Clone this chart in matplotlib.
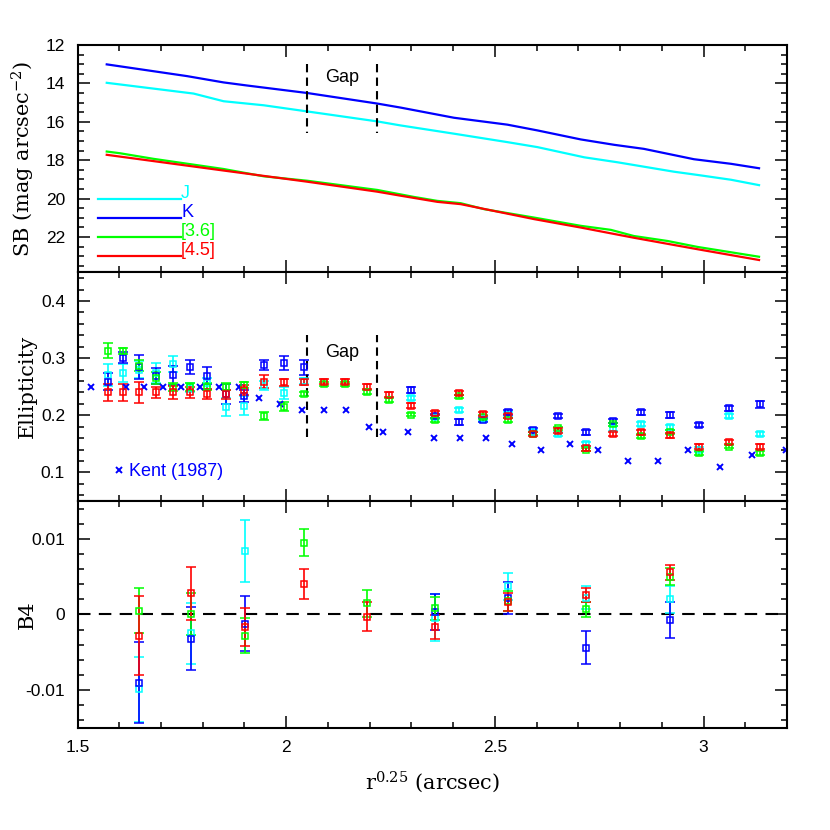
import numpy as np
import matplotlib
matplotlib.use("Agg")
import matplotlib.pyplot as plt
from matplotlib.ticker import MultipleLocator, FuncFormatter
from matplotlib.legend_handler import HandlerLine2D

plt.rcParams['font.family'] = ['Liberation Sans', 'DejaVu Sans']
plt.rcParams['mathtext.fontset'] = 'dejavuserif'
plt.rcParams['axes.unicode_minus'] = False

nan = np.nan

# colours of the four bands
c_J = '#00ffff'
c_K = '#0000ff'
c_36 = '#00ff00'
c_45 = '#ff0000'

# ---- surface brightness profiles (top panel)
sb_r_K = [1.570, 1.762, 1.850, 1.906, 2.050, 2.218, 2.274, 2.402, 2.530, 2.602, 2.706, 2.786, 2.857, 2.977, 3.066, 3.133]
sb_K = [13.01, 13.62, 13.95, 14.11, 14.50, 15.05, 15.26, 15.79, 16.15, 16.45, 16.92, 17.20, 17.41, 17.95, 18.19, 18.42]
sb_r_J = [1.570, 1.778, 1.850, 1.946, 2.050, 2.218, 2.274, 2.402, 2.530, 2.602, 2.714, 2.794, 2.929, 2.986, 3.066, 3.133]
sb_J = [13.97, 14.53, 14.93, 15.14, 15.46, 15.98, 16.19, 16.62, 17.06, 17.32, 17.85, 18.11, 18.60, 18.77, 19.02, 19.30]
sb_r_36 = [1.570, 1.602, 1.682, 1.850, 1.946, 2.050, 2.218, 2.305, 2.362, 2.418, 2.474, 2.594, 2.706, 2.778, 2.833, 2.914, 2.986, 3.133]
sb_36 = [17.55, 17.64, 17.93, 18.46, 18.84, 19.07, 19.55, 19.91, 20.12, 20.24, 20.55, 20.99, 21.42, 21.63, 21.95, 22.21, 22.52, 23.03]
sb_r_45 = [1.570, 1.850, 2.050, 2.218, 2.274, 2.362, 2.418, 2.594, 2.706, 2.833, 2.986, 3.133]
sb_45 = [17.72, 18.54, 19.12, 19.64, 19.85, 20.17, 20.29, 21.07, 21.51, 22.04, 22.64, 23.20]

# ---- ellipticity (middle panel)
ell_r = [1.572, 1.608, 1.648, 1.688, 1.728, 1.770, 1.811, 1.856, 1.900, 1.948, 1.994, 2.042, 2.090, 2.142, 2.194,
         2.246, 2.300, 2.356, 2.414, 2.471, 2.531, 2.591, 2.651, 2.718, 2.784, 2.851, 2.920, 2.989, 3.061, 3.136]
ell_J = [0.271, 0.274, 0.280, 0.274, 0.290, 0.248, 0.256, 0.215, 0.217, 0.252, 0.239, 0.260, nan, nan, nan,
         nan, 0.230, 0.197, 0.209, 0.194, 0.201, 0.170, 0.167, 0.150, 0.177, 0.185, 0.179, 0.140, 0.199, 0.167]
ell_J_err = [0.019, 0.015, 0.015, 0.017, 0.014, 0.008, 0.010, 0.016, 0.017, 0.008, 0.010, 0.006, nan, nan, nan,
             nan, 0.004, 0.004, 0.004, 0.004, 0.004, 0.004, 0.004, 0.004, 0.004, 0.004, 0.004, 0.004, 0.004, 0.004]
ell_K = [0.259, 0.301, 0.284, 0.269, 0.270, 0.285, 0.269, 0.237, 0.234, 0.288, 0.292, 0.284, nan, nan, nan,
         nan, 0.244, 0.199, 0.188, 0.192, 0.205, 0.174, 0.199, 0.170, 0.190, 0.205, 0.201, 0.183, 0.212, 0.219]
ell_K_err = [0.015, 0.010, 0.021, 0.014, 0.017, 0.012, 0.015, 0.017, 0.010, 0.009, 0.012, 0.013, nan, nan, nan,
             nan, 0.005, 0.004, 0.005, 0.004, 0.004, 0.004, 0.004, 0.004, 0.004, 0.005, 0.005, 0.004, 0.005, 0.006]
ell_36 = [0.313, 0.312, 0.287, 0.265, 0.250, 0.250, 0.250, 0.250, 0.253, 0.198, 0.215, 0.237, 0.255, 0.255, 0.241,
          0.227, 0.201, 0.192, 0.233, 0.197, 0.192, 0.168, 0.177, 0.140, 0.184, 0.164, 0.171, 0.134, 0.145, 0.134]
ell_36_err = [0.013, 0.005, 0.009, 0.010, 0.007, 0.007, 0.006, 0.006, 0.006, 0.007, 0.008, 0.004, 0.004, 0.004, 0.004,
              0.004, 0.003, 0.003, 0.003, 0.003, 0.003, 0.003, 0.003, 0.003, 0.003, 0.003, 0.003, 0.003, 0.003, 0.003]
ell_45 = [0.240, 0.240, 0.240, 0.240, 0.240, 0.240, 0.237, 0.237, 0.244, 0.259, 0.258, 0.258, 0.259, 0.259, 0.250,
          0.236, 0.217, 0.204, 0.239, 0.202, 0.199, 0.167, 0.173, 0.142, 0.167, 0.170, 0.165, 0.145, 0.153, 0.145]
ell_45_err = [0.015, 0.015, 0.019, 0.010, 0.012, 0.009, 0.009, 0.008, 0.009, 0.011, 0.006, 0.005, 0.004, 0.004, 0.004,
              0.004, 0.004, 0.004, 0.004, 0.004, 0.004, 0.004, 0.004, 0.004, 0.004, 0.004, 0.004, 0.004, 0.004, 0.004]

# Kent (1987) ellipticities
kent_r = [1.532, 1.616, 1.660, 1.704, 1.748, 1.794, 1.840, 1.888, 1.936, 1.986, 2.038, 2.090, 2.144, 2.198, 2.231,
          2.292, 2.354, 2.416, 2.479, 2.542, 2.610, 2.679, 2.747, 2.818, 2.891, 2.963, 3.039, 3.117, 3.198]
kent_e = [0.25, 0.25, 0.25, 0.25, 0.25, 0.25, 0.25, 0.25, 0.23, 0.22, 0.21, 0.21, 0.21, 0.18, 0.17,
          0.17, 0.16, 0.16, 0.16, 0.15, 0.14, 0.15, 0.14, 0.12, 0.12, 0.14, 0.11, 0.13, 0.14]

# ---- B4 (bottom panel)
b4_r = [1.648, 1.772, 1.902, 2.043, 2.194, 2.356, 2.531, 2.718, 2.920]
b4_J = [-0.0099, -0.0025, 0.0084, nan, nan, -0.0004, 0.0037, 0.0022, 0.0020]
b4_J_err = [0.0043, 0.0040, 0.0041, nan, nan, 0.0031, 0.0018, 0.0015, 0.0018]
b4_K = [-0.0090, -0.0032, -0.0012, nan, nan, 0.0003, 0.0022, -0.0044, -0.0007]
b4_K_err = [0.0054, 0.0042, 0.0036, nan, nan, 0.0024, 0.0021, 0.0022, 0.0024]
b4_36 = [0.0005, 0.0001, -0.0028, 0.0095, 0.0015, 0.0008, 0.0018, 0.0007, 0.0050]
b4_36_err = [0.0030, 0.0028, 0.0023, 0.0018, 0.0018, 0.0015, 0.0013, 0.0010, 0.0011]
b4_45 = [-0.0028, 0.0028, -0.0017, 0.0040, -0.0003, -0.0017, 0.0016, 0.0026, 0.0056]
b4_45_err = [0.0052, 0.0035, 0.0025, 0.0020, 0.0019, 0.0016, 0.0012, 0.0009, 0.0010]

gap_edges = [2.05, 2.218]

fig = plt.figure(figsize=(8.3, 8.3), dpi=100)
ax_sb = fig.add_axes([0.0934, 0.6717, 0.8548, 0.2741])
ax_el = fig.add_axes([0.0934, 0.3964, 0.8548, 0.2753])
ax_b4 = fig.add_axes([0.0934, 0.1229, 0.8548, 0.2735])

fmt = FuncFormatter(lambda v, p: '%g' % round(v, 6))
label_font = dict(family='DejaVu Serif', fontsize=15)

for ax in (ax_sb, ax_el, ax_b4):
    ax.set_xlim(1.5, 3.2)
    ax.xaxis.set_major_locator(MultipleLocator(0.5))
    ax.xaxis.set_minor_locator(MultipleLocator(0.1))
    ax.tick_params(which='both', direction='in', top=True, right=True, width=1.1, pad=9, labelsize=12.5)
    ax.tick_params(which='major', length=8.5)
    ax.tick_params(which='minor', length=4.5)
    ax.yaxis.set_major_formatter(fmt)
    ax.xaxis.set_major_formatter(fmt)
    for s in ax.spines.values():
        s.set_linewidth(1.5)
    ax.yaxis.set_label_coords(-0.057, 0.5)

# top: SB profiles
lJ, = ax_sb.plot(sb_r_J, sb_J, color=c_J, lw=1.6, label='J')
lK, = ax_sb.plot(sb_r_K, sb_K, color=c_K, lw=1.6, label='K')
l36, = ax_sb.plot(sb_r_36, sb_36, color=c_36, lw=1.6, label='[3.6]')
l45, = ax_sb.plot(sb_r_45, sb_45, color=c_45, lw=1.6, label='[4.5]')
ax_sb.set_ylim(23.85, 12)
ax_sb.yaxis.set_major_locator(MultipleLocator(2))
ax_sb.yaxis.set_minor_locator(MultipleLocator(0.5))
ax_sb.set_ylabel('SB (mag arcsec$^{-2}$)', **label_font)
ax_sb.tick_params(labelbottom=False)
ax_sb.vlines(gap_edges, 12.99, 16.6, colors='black', linestyles=(0, (4, 2.5)), lw=1.5)
ax_sb.text(np.mean(gap_edges), 13.7, 'Gap', ha='center', va='center', fontsize=13)


def drop_line(legline, orig):
    # keep the colour, and put the line at the text baseline like the hand drawn key
    legline.update_from(orig)
    legline.set_ydata(np.asarray(legline.get_ydata()) - 5.2)


leg = ax_sb.legend(handles=[lJ, lK, l36, l45], loc='upper left', bbox_to_anchor=(0.029, 0.385),
                   frameon=False, borderpad=0, borderaxespad=0, handlelength=4.6, handletextpad=0,
                   labelspacing=0.12, fontsize=13, labelcolor=[c_J, c_K, c_36, c_45],
                   handler_map={plt.Line2D: HandlerLine2D(update_func=drop_line)})

# middle: ellipticity
ek = dict(fmt='s', mfc='none', ms=5, mew=1.1, elinewidth=1.2, capsize=3.5, capthick=1.2)
ax_el.errorbar(ell_r, ell_J, yerr=ell_J_err, color=c_J, **ek)
ax_el.errorbar(ell_r, ell_K, yerr=ell_K_err, color=c_K, **ek)
ax_el.errorbar(ell_r, ell_36, yerr=ell_36_err, color=c_36, **ek)
ax_el.errorbar(ell_r, ell_45, yerr=ell_45_err, color=c_45, **ek)
kent, = ax_el.plot(kent_r, kent_e, 'x', color=c_K, ms=4.5, mew=1.4, ls='none', label='Kent (1987)')
ax_el.set_ylim(0.05, 0.45)
ax_el.yaxis.set_major_locator(MultipleLocator(0.1))
ax_el.yaxis.set_minor_locator(MultipleLocator(0.02))
ax_el.set_ylabel('Ellipticity', **label_font)
ax_el.tick_params(labelbottom=False)
ax_el.vlines(gap_edges, 0.162, 0.34, colors='black', linestyles=(0, (4, 2.5)), lw=1.5)
ax_el.text(np.mean(gap_edges), 0.31, 'Gap', ha='center', va='center', fontsize=13)
ax_el.legend(handles=[kent], loc='center left', bbox_to_anchor=(0.0486, 0.128), frameon=False,
             borderpad=0, borderaxespad=0, handlelength=0.8, handletextpad=0.15, numpoints=1,
             fontsize=13, labelcolor=c_K)

# bottom: B4
ax_b4.axhline(0, color='black', lw=1.5, ls=(0, (6, 4)))
ax_b4.errorbar(b4_r, b4_J, yerr=b4_J_err, color=c_J, **ek)
ax_b4.errorbar(b4_r, b4_K, yerr=b4_K_err, color=c_K, **ek)
ax_b4.errorbar(b4_r, b4_36, yerr=b4_36_err, color=c_36, **ek)
ax_b4.errorbar(b4_r, b4_45, yerr=b4_45_err, color=c_45, **ek)
ax_b4.set_ylim(-0.015, 0.015)
ax_b4.yaxis.set_major_locator(MultipleLocator(0.01))
ax_b4.yaxis.set_minor_locator(MultipleLocator(0.002))
ax_b4.set_ylabel('B4', **label_font)
ax_b4.set_xlabel('r$^{0.25}$ (arcsec)', labelpad=10, **label_font)

fig.savefig('out.png', dpi=100)
